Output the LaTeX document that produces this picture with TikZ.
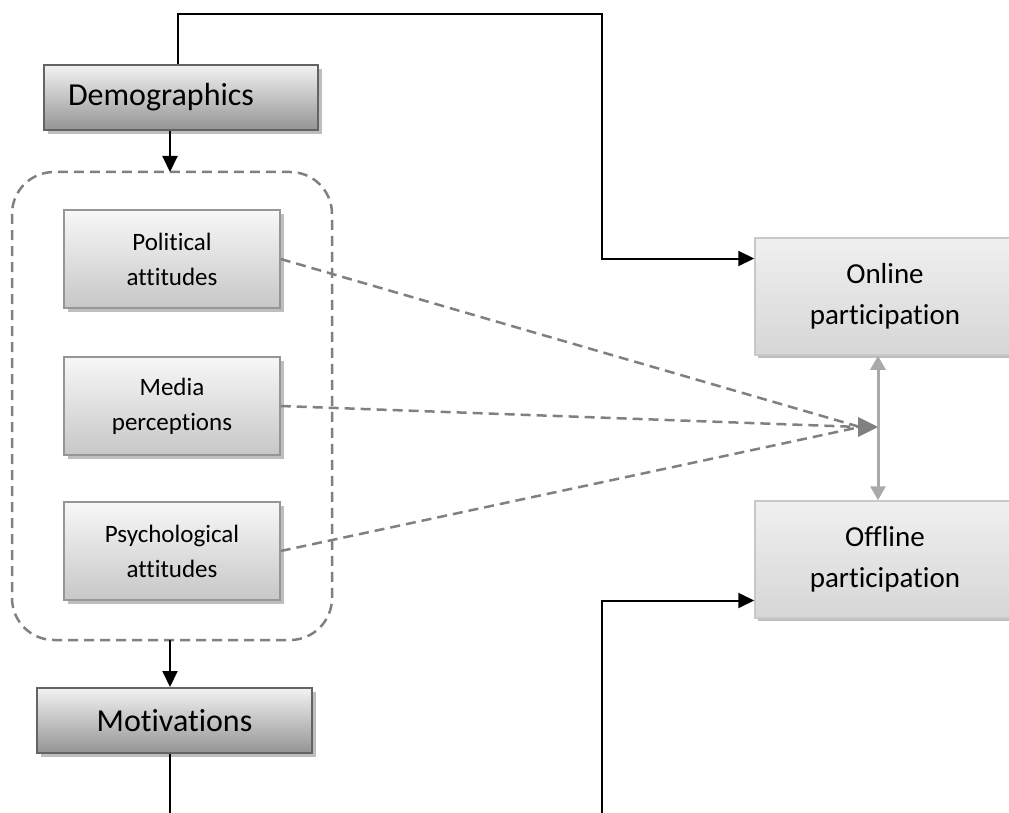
\documentclass[tikz,border=0pt]{standalone}
\usepackage{fontspec}
\setmainfont{Carlito}[Ligatures={NoCommon, NoRequired, NoContextual}]
\usepackage{tikz}
\usetikzlibrary{arrows.meta, shadows}
\definecolor{edgedark}{RGB}{100,100,100}
\definecolor{edgemid}{RGB}{150,150,150}
\definecolor{edgelight}{RGB}{200,200,200}
\definecolor{dashgray}{RGB}{128,128,128}
\definecolor{linkgray}{RGB}{170,170,170}
\definecolor{shadowgray}{RGB}{190,190,190}
\tikzset{
  bigbox/.style={draw=edgedark, line width=2pt, top color=white!95!black, bottom color=black!42,
    drop shadow={shadow xshift=4pt, shadow yshift=-4pt, fill=shadowgray, opacity=1},
    font=\fontsize{32}{36}\selectfont, minimum height=65pt, inner sep=0pt},
  smallbox/.style={draw=edgemid, line width=1.5pt, top color=white!97!black, bottom color=black!22,
    drop shadow={shadow xshift=4pt, shadow yshift=-4pt, fill=shadowgray, opacity=1},
    font=\fontsize{25}{35}\selectfont, align=center, minimum width=216pt, minimum height=98pt, inner sep=0pt},
  outbox/.style={draw=edgelight, line width=1.5pt, top color=white!94!black, bottom color=black!16,
    drop shadow={shadow xshift=3pt, shadow yshift=-3pt, fill=shadowgray, opacity=1},
    font=\fontsize{29}{41}\selectfont, align=center, minimum width=260pt, minimum height=117pt, inner sep=0pt},
  blackarrow/.style={line width=2pt, -{Triangle[length=16pt, width=15pt]}},
  dashlink/.style={draw=dashgray, line width=2.5pt, dash pattern=on 10pt off 6pt},
}

\begin{document}
\begin{tikzpicture}[x=1pt, y=-1pt] % one unit is one pixel of the reference

    \useasboundingbox (0,0) rectangle (1009,813);
    \clip (0,0) rectangle (1009,813);

    % Dashed group round the three attitude boxes
    \draw[dashlink, rounded corners=42pt] (12,172) rectangle (332,640);
    \coordinate (grouptop) at (170,172);
    \coordinate (groupbottom) at (170,640);

    % Left column
    \node[bigbox, text width=226pt, inner xsep=24pt, align=left] (demo) at (181,97.5) {Demographics};
    \node[smallbox] (polit) at (172,259) {Political\\attitudes};
    \node[smallbox] (media) at (172,406) {Media\\perceptions};
    \node[smallbox] (psych) at (172,551) {Psychological\\attitudes};
    \node[bigbox, minimum width=275pt] (motiv) at (174.5,720.5) {Motivations};

    % Right column (cut off at the right edge)
    \node[outbox] (online) at (885,296.5) {Online\\participation};
    \node[outbox] (offline) at (885,559.5) {Offline\\participation};

    % Free ends of the long connectors
    \coordinate (topleft) at (178,14);
    \coordinate (topright) at (602,14);
    \coordinate (lowstart) at (602,813);
    \coordinate (motivend) at (170,813);
    \coordinate (hub) at (878,427);
    \coordinate (hubbase) at (860,427);

    % Black arrows
    \draw[blackarrow] (demo.south -| grouptop) -- (grouptop);
    \draw[blackarrow] (groupbottom) -- (motiv.north -| groupbottom);
    \draw[line width=2pt] (motiv.south -| motivend) -- (motivend);
    \draw[blackarrow] (demo.north -| topleft) -- (topleft) -- (topright) |- ([yshift=38pt]online.west);
    \draw[blackarrow] (lowstart) |- ([yshift=-41pt]offline.west);

    % Dashed links to the online/offline link
    \draw[dashlink] (polit.east) -- (hubbase);
    \draw[dashlink] (media.east) -- (hubbase);
    \draw[dashlink] (psych.east) -- (hubbase);
    \draw[draw=none, fill=dashgray] (hub) -- (858,417) -- (858,437) -- cycle;

    % Two-way link between online and offline
    \draw[draw=linkgray, line width=3pt, {Triangle[length=14pt, width=15pt]}-{Triangle[length=14pt, width=15pt]}] (online.south -| hub) -- (offline.north -| hub);

\end{tikzpicture}
\end{document}
